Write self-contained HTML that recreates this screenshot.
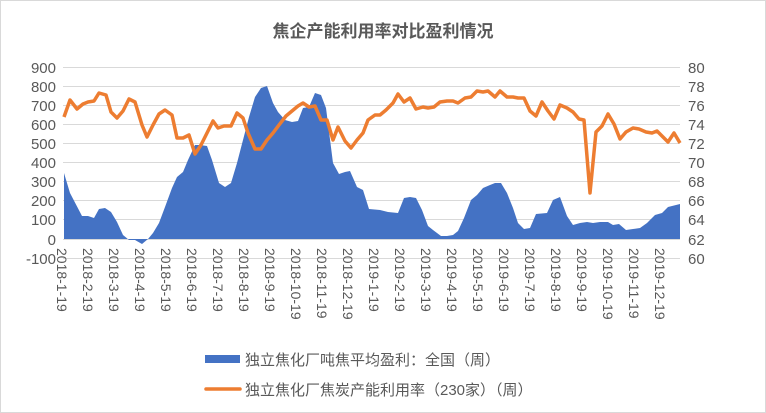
<!DOCTYPE html>
<html><head><meta charset="utf-8"><style>
body{margin:0;background:#fff;}
svg{display:block;font-family:"Liberation Sans","Noto Sans CJK SC",sans-serif;}
</style></head><body>
<svg width="766" height="413" viewBox="0 0 766 413" xmlns="http://www.w3.org/2000/svg">
<rect x="0.5" y="0.5" width="765" height="412" fill="#fff" stroke="#d9d9d9"/>
<text x="383" y="37" text-anchor="middle" font-size="17" font-weight="bold" fill="#595959">焦企产能利用率对比盈利情况</text>
<g stroke="#d9d9d9" stroke-width="1">
<line x1="63" x2="680" y1="67.5" y2="67.5"/><line x1="63" x2="680" y1="86.5" y2="86.5"/><line x1="63" x2="680" y1="105.5" y2="105.5"/><line x1="63" x2="680" y1="124.5" y2="124.5"/><line x1="63" x2="680" y1="143.5" y2="143.5"/><line x1="63" x2="680" y1="162.5" y2="162.5"/><line x1="63" x2="680" y1="181.5" y2="181.5"/><line x1="63" x2="680" y1="200.5" y2="200.5"/><line x1="63" x2="680" y1="219.5" y2="219.5"/><line x1="63" x2="680" y1="239.5" y2="239.5"/><line x1="63" x2="680" y1="258.5" y2="258.5"/>
</g>
<g font-size="15" fill="#595959" text-anchor="end">
<text x="56" y="73">900</text><text x="56" y="92">800</text><text x="56" y="111">700</text><text x="56" y="130">600</text><text x="56" y="149">500</text><text x="56" y="168">400</text><text x="56" y="187">300</text><text x="56" y="206">200</text><text x="56" y="225">100</text><text x="56" y="245">0</text><text x="56" y="264">-100</text>
</g>
<g font-size="15" fill="#595959" text-anchor="start">
<text x="688" y="73">80</text><text x="688" y="92">78</text><text x="688" y="111">76</text><text x="688" y="130">74</text><text x="688" y="149">72</text><text x="688" y="168">70</text><text x="688" y="187">68</text><text x="688" y="206">66</text><text x="688" y="225">64</text><text x="688" y="245">62</text><text x="688" y="264">60</text>
</g>
<polygon fill="#4472c4" points="64,239 64,173 70,193 82,216 88,216 94,218 99,209 105,208 111,212 117,222 123,235 129,240 135,240 142,244 148,239 153,233 159,223 165,207 172,188 177,177 183,172 188,160 195,145 200,145 207,146 212,160 219,183 225,187 231,183 237,163 243,140 249,117 255,97 261,88 267,86 273,103 278,112 285,120 292,122 298,121 303,108 309,107 315,93 321,95 326,108 333,163 339,174 345,172 350,171 357,187 363,190 369,209 380,210 388,212 398,213 404,198 410,197 416,198 422,210 428,226 433,230 441,236 447,236 453,235 458,231 464,218 471,200 477,195 483,188 490,185 495,183 501,183 507,193 513,208 518,223 524,229 530,228 536,214 547,213 553,200 560,197 567,216 573,225 580,223 587,222 593,223 600,222 608,222 613,225 619,224 626,230 633,229 640,228 647,223 655,215 662,213 668,207 680,204 680,239"/>
<polyline fill="none" stroke="#ed7d31" stroke-width="3.5" stroke-linejoin="round" points="64,117 70,100 77,109 83,104 88,102 94,101 99,93 106,95 111,112 117,118 123,111 129,99 135,102 142,125 147,137 153,125 159,114 165,110 172,115 177,138 183,138 189,135 195,154 201,145 207,133 213,121 218,128 224,126 231,126 237,113 243,118 248,133 255,149 261,149 267,140 273,133 279,125 286,116 292,111 298,106 303,103 309,107 315,106 321,120 327,120 333,140 338,127 345,141 351,148 357,140 363,133 368,120 375,115 380,115 386,110 393,103 398,94 404,102 410,98 416,109 423,107 428,108 434,107 440,102 447,101 453,101 458,103 465,98 471,97 477,91 483,92 488,91 495,97 500,91 507,97 513,97 518,98 524,98 530,111 536,116 542,102 548,111 554,119 560,105 567,108 573,112 579,119 584,120 590,193 596,132 602,126 608,114 614,124 620,139 626,132 633,128 639,129 646,132 652,133 657,131 663,137 668,142 674,133 680,143"/>
<g font-size="14" fill="#595959" style="writing-mode:vertical-rl">
<text x="62" y="248">2018-1-19</text><text x="88" y="248">2018-2-19</text><text x="114" y="248">2018-3-19</text><text x="140" y="248">2018-4-19</text><text x="166" y="248">2018-5-19</text><text x="192" y="248">2018-6-19</text><text x="218" y="248">2018-7-19</text><text x="244" y="248">2018-8-19</text><text x="270" y="248">2018-9-19</text><text x="296" y="248">2018-10-19</text><text x="322" y="248">2018-11-19</text><text x="348" y="248">2018-12-19</text><text x="374" y="248">2019-1-19</text><text x="400" y="248">2019-2-19</text><text x="426" y="248">2019-3-19</text><text x="452" y="248">2019-4-19</text><text x="478" y="248">2019-5-19</text><text x="504" y="248">2019-6-19</text><text x="530" y="248">2019-7-19</text><text x="556" y="248">2019-8-19</text><text x="582" y="248">2019-9-19</text><text x="608" y="248">2019-10-19</text><text x="634" y="248">2019-11-19</text><text x="660" y="248">2019-12-19</text>
</g>
<rect x="205" y="355" width="35" height="8" fill="#4472c4"/>
<text x="245" y="365" font-size="15" fill="#595959">独立焦化厂吨焦平均盈利：全国（周）</text>
<line x1="206" x2="240" y1="389" y2="389" stroke="#ed7d31" stroke-width="3.5" stroke-linecap="round"/>
<text x="245" y="395" font-size="15" fill="#595959">独立焦化厂焦炭产能利用率（230家）（周）</text>
</svg>
</body></html>
